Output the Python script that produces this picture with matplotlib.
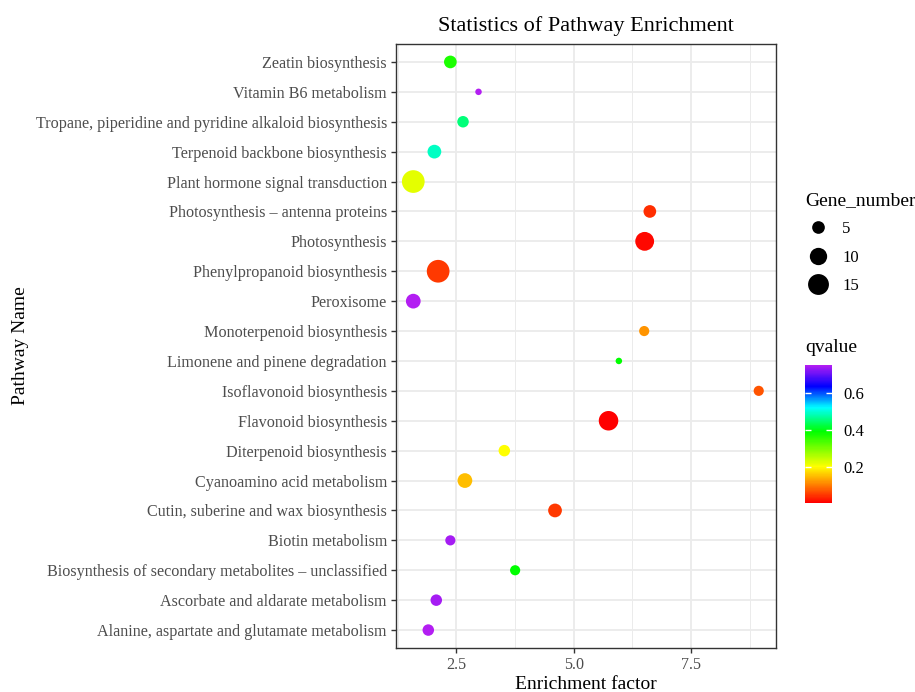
import numpy as np
import matplotlib.pyplot as plt
from matplotlib.colors import LinearSegmentedColormap, Normalize
from matplotlib.lines import Line2D
from matplotlib.ticker import MultipleLocator

plt.rcParams['font.family'] = ['Liberation Serif', 'DejaVu Serif']

# pathways listed bottom to top
pathways = [
    'Alanine, aspartate and glutamate metabolism',
    'Ascorbate and aldarate metabolism',
    'Biosynthesis of secondary metabolites \u2013 unclassified',
    'Biotin metabolism',
    'Cutin, suberine and wax biosynthesis',
    'Cyanoamino acid metabolism',
    'Diterpenoid biosynthesis',
    'Flavonoid biosynthesis',
    'Isoflavonoid biosynthesis',
    'Limonene and pinene degradation',
    'Monoterpenoid biosynthesis',
    'Peroxisome',
    'Phenylpropanoid biosynthesis',
    'Photosynthesis',
    'Photosynthesis \u2013 antenna proteins',
    'Plant hormone signal transduction',
    'Terpenoid backbone biosynthesis',
    'Tropane, piperidine and pyridine alkaloid biosynthesis',
    'Vitamin B6 metabolism',
    'Zeatin biosynthesis',
]
enrichment = [1.90, 2.07, 3.75, 2.37, 4.60, 2.68, 3.52, 5.74, 8.94, 5.96,
              6.50, 1.58, 2.11, 6.51, 6.62, 1.58, 2.03, 2.64, 2.97, 2.37]
gene_number = [4, 4, 3, 3, 6, 7, 4, 13, 3, 1,
               3, 7, 18, 12, 5, 18, 6, 4, 1, 5]
qvalue = [0.75, 0.74, 0.39, 0.74, 0.05, 0.15, 0.20, 0.004, 0.07, 0.39,
          0.12, 0.75, 0.05, 0.01, 0.04, 0.22, 0.49, 0.45, 0.75, 0.37]
size_breaks = [5, 10, 15]
q_ticks = [0.2, 0.4, 0.6]

DPI = 100


def point_area(g):
    # diameter in pixels grows with sqrt of gene count, returned as points^2
    d_px = 1.5 + 5.0 * np.sqrt(np.asarray(g, dtype=float))
    return (d_px * 72 / DPI) ** 2


qmin, qmax = min(qvalue), max(qvalue)


def qpos(v):
    return (v - qmin) / (qmax - qmin)


rainbow = LinearSegmentedColormap.from_list('q_rainbow', [
    (0.0, '#FF0000'),
    (qpos(0.20), '#FFFF00'),
    (qpos(0.39), '#00FF00'),
    (qpos(0.52), '#00FFFF'),
    (qpos(0.635), '#0000FF'),
    (1.0, '#B31EF2'),
])
norm = Normalize(vmin=qmin, vmax=qmax)

fig = plt.figure(figsize=(9.15, 6.92), dpi=DPI)
ax = fig.add_axes([396 / 915, 1 - 648 / 692, 380 / 915, 604 / 692])

y = np.arange(len(pathways))
sc = ax.scatter(enrichment, y, s=point_area(gene_number), c=qvalue,
                cmap=rainbow, norm=norm, linewidths=0, zorder=3)

ax.set_yticks(y)
ax.set_yticklabels(pathways)
ax.set_ylim(-0.6, len(pathways) - 0.4)
span = max(enrichment) - min(enrichment)
ax.set_xlim(min(enrichment) - 0.05 * span, max(enrichment) + 0.05 * span)
ax.xaxis.set_minor_locator(MultipleLocator(1.25))
ax.set_xticks([2.5, 5.0, 7.5])
ax.set_xticklabels(['2.5', '5.0', '7.5'])

ax.grid(True, which='major', color='#EBEBEB', linewidth=1.3, zorder=0)
ax.grid(True, which='minor', axis='x', color='#EBEBEB', linewidth=0.7, zorder=0)
ax.set_axisbelow(True)
for sp in ax.spines.values():
    sp.set_color('#333333')
    sp.set_linewidth(1.0)
ax.tick_params(which='major', length=3.5, width=1.0, color='#333333',
               labelsize=11.6, labelcolor='#4D4D4D', pad=3)
ax.tick_params(which='minor', length=0)

ax.set_xlabel('Enrichment factor', fontsize=14, labelpad=2)
ax.set_ylabel('Pathway Name', fontsize=14, labelpad=5)
ax.set_title('Statistics of Pathway Enrichment', fontsize=16, pad=9)

# size legend
handles = [Line2D([], [], linestyle='', marker='o', markeredgewidth=0,
                  color='black', markersize=np.sqrt(point_area(b)))
           for b in size_breaks]
leg = fig.legend(handles, [str(b) for b in size_breaks], title='Gene_number',
                 loc='upper left', bbox_to_anchor=(799 / 915, 1 - 185 / 692),
                 frameon=False, fontsize=12, title_fontsize=14,
                 labelspacing=0.75, handletextpad=0.7, borderaxespad=0,
                 handlelength=1.5)
leg._legend_box.align = 'left'

# qvalue colourbar
cax = fig.add_axes([805 / 915, 1 - 503 / 692, 27 / 915, 138 / 692])
cb = fig.colorbar(sc, cax=cax, ticks=q_ticks)
cb.outline.set_visible(False)
cax.tick_params(direction='in', color='white', length=4, width=1,
                left=True, right=True, labelsize=12, pad=8)
cax.set_yticklabels(['0.2', '0.4', '0.6'])
fig.text(805 / 915, 1 - 348 / 692, 'qvalue', fontsize=14, va='center', ha='left')

fig.savefig('out.png', dpi=DPI)
